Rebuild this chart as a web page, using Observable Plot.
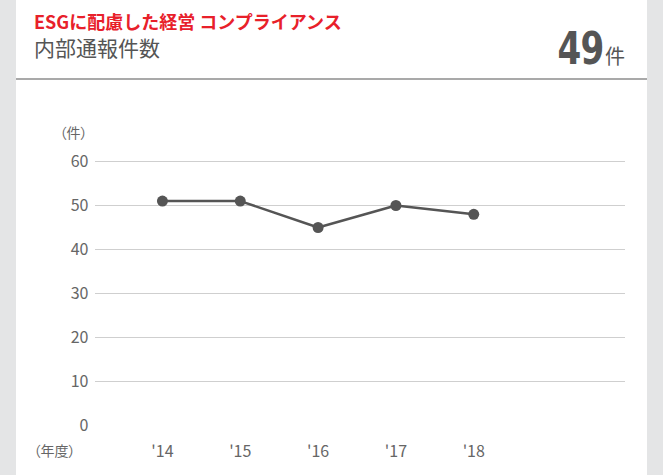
<!DOCTYPE html>
<html><head><meta charset="utf-8">
<script src="https://cdn.jsdelivr.net/npm/d3@7"></script>
<script src="https://cdn.jsdelivr.net/npm/@observablehq/plot@0.6"></script>
<style>
html,body{margin:0;padding:0;background:#e4e5e6;width:663px;height:475px;overflow:hidden;font-family:"Noto Sans CJK JP","Noto Sans",sans-serif;}
#card{position:absolute;left:16px;top:0;width:631px;height:475px;background:#fff;}
#title{position:absolute;left:18px;top:12px;font-size:18px;line-height:18px;font-weight:bold;color:#e8202a;white-space:nowrap;}
#sub{position:absolute;left:18px;top:36px;font-size:21px;line-height:22px;color:#555;white-space:nowrap;}
#big{position:absolute;right:22px;top:22px;color:#555;white-space:nowrap;}
#big .n{display:inline-block;transform:scaleX(0.76);transform-origin:right center;font-family:"DejaVu Sans","Noto Sans",sans-serif;font-weight:bold;font-size:45px;letter-spacing:-1px;}
#big .u{font-size:20px;margin-left:1px;}
#hr{position:absolute;left:0;top:78px;width:631px;height:2px;background:#a9a9a9;}
#chart{position:absolute;left:0;top:80px;}
.palt{font-feature-settings:"palt";}
</style></head>
<body>
<div id="card">
  <div id="title">ESGに配慮した経営 コンプライアンス</div>
  <div id="sub">内部通報件数</div>
  <div id="big"><span class="n">49</span><span class="u">件</span></div>
  <div id="hr"></div>
  <div id="chart"></div>
</div>
<script>
const years = [2014, 2015, 2016, 2017, 2018];
const counts = [51, 51, 45, 50, 48];
const yTicks = [0, 10, 20, 30, 40, 50, 60];
const gridTicks = [10, 20, 30, 40, 50, 60];
const yUnit = "（件）";
const xUnit = "（年度）";

const data = years.map((y, i) => ({year: y, count: counts[i]}));

const chart = Plot.plot({
  width: 631,
  height: 395,
  marginLeft: 79,
  marginRight: 22,
  marginTop: 81,
  marginBottom: 50,
  style: {fontFamily: '"Noto Sans CJK JP","Noto Sans",sans-serif', fontSize: "16px", color: "#666", background: "transparent"},
  x: {domain: [2013.14, 2019.95]},
  y: {domain: [0, 60]},
  marks: [
    Plot.ruleY(gridTicks, {stroke: "#cfcfcf", strokeWidth: 1}),
    Plot.axisY({ticks: yTicks, tickSize: 0, tickPadding: 7, label: null, fill: "#666", fontSize: 16}),
    Plot.axisX({ticks: years, tickSize: 0, tickPadding: 20, tickFormat: d => "'" + String(d).slice(2), label: null, fill: "#666", fontSize: 16}),
    Plot.text([yUnit], {frameAnchor: "top-left", dx: -36, dy: -28, text: d => d, fill: "#666", fontSize: 14, textAnchor: "start", lineAnchor: "middle", className: "palt"}),
    Plot.text([xUnit], {frameAnchor: "bottom-left", dx: -62, dy: 26, text: d => d, fill: "#666", fontSize: 14, textAnchor: "start", lineAnchor: "middle", className: "palt"}),
    Plot.line(data, {x: "year", y: "count", stroke: "#555", strokeWidth: 2.5}),
    Plot.dot(data, {x: "year", y: "count", r: 5.5, fill: "#555", stroke: "none"})
  ]
});
document.getElementById("chart").appendChild(chart);
</script>
</body></html>
